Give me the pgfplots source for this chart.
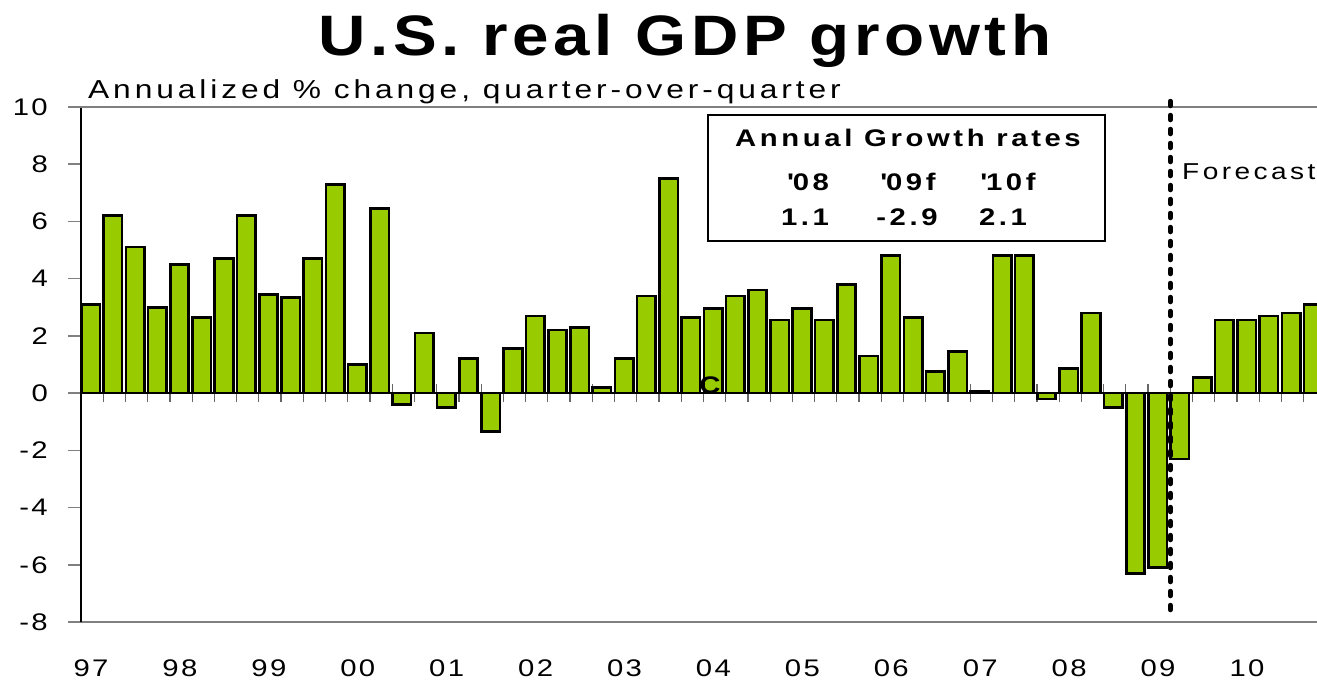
\documentclass[border=0pt]{standalone}
\usepackage{fontspec}
\setmainfont{Liberation Sans}
\newfontfamily\bodyf{Liberation Sans}[FakeStretch=1.22,LetterSpace=15]
\newfontfamily\tickf{Liberation Sans}[FakeStretch=1.22,LetterSpace=10]
\newfontfamily\titlef{Liberation Sans}[FakeStretch=1.15,LetterSpace=8]
\usepackage{pgfplots}
\pgfplotsset{compat=1.18}
\definecolor{barg}{RGB}{153,204,0}
\begin{document}
\begin{tikzpicture}
\useasboundingbox (0,0) rectangle (1317pt,681pt);
\clip (0,0) rectangle (1317pt,681pt);
% frame axis: y axis, top and bottom lines, year labels
\begin{axis}[at={(81pt,59pt)}, anchor=south west, scale only axis,
  width=1236pt, height=515pt, xmin=0.5, xmax=56.1, ymin=-8, ymax=10,
  axis x line=bottom, axis y line=left, axis line style={-},
  x axis line style={draw=gray, line width=1.5pt},
  y axis line style={draw=black, line width=2pt},
  xtick={0.95,4.95,8.95,12.95,16.95,20.95,24.95,28.95,32.95,36.95,40.95,44.95,48.95,52.95},
  xticklabels={97,98,99,00,01,02,03,04,05,06,07,08,09,10},
  xtick style={draw=none},
  xticklabel style={font=\tickf\fontsize{24}{26}\selectfont, anchor=base, inner sep=0pt, yshift=-41pt},
  ytick={-8,-6,-4,-2,0,2,4,6,8,10},
  yticklabels={-8,-6,-4,-2,0,2,4,6,8,10},
  ytick style={draw=gray, line width=1.5pt},
  tick align=outside, major tick length=13pt,
  yticklabel style={font=\tickf\fontsize{24}{28}\selectfont, anchor=east, inner sep=0pt, xshift=-20pt},
  extra y ticks={10}, extra y tick labels={},
  extra y tick style={grid=major, major grid style={draw=gray, line width=1.5pt}},
]
\end{axis}
% category axis at zero and the bars
\begin{axis}[at={(81pt,59pt)}, anchor=south west, scale only axis,
  width=1236pt, height=515pt, xmin=0.5, xmax=56.1, ymin=-8, ymax=10,
  axis x line=middle, axis y line=none, axis line style={-},
  x axis line style={draw=black, line width=1.5pt},
  xtick={1.5,2.5,...,55.5}, xticklabels={}, ytick=\empty,
  tick align=center, major tick length=18pt,
  xtick style={draw=black!60, line width=1.2pt},
  clip=false]
\addplot[ybar, bar width=18.5pt, bar shift=-1.5pt, fill=barg, draw=black, line width=2.6pt] coordinates {
(1,3.1) (2,6.2) (3,5.1) (4,3.0) (5,4.5) (6,2.65) (7,4.7) (8,6.2)
(9,3.45) (10,3.35) (11,4.7) (12,7.3) (13,1.0) (14,6.45) (15,-0.4) (16,2.1)
(17,-0.5) (18,1.2) (19,-1.35) (20,1.55) (21,2.7) (22,2.2) (23,2.3) (24,0.2)
(25,1.2) (26,3.4) (27,7.5) (28,2.65) (29,2.95) (30,3.4) (31,3.6) (32,2.55)
(33,2.95) (34,2.55) (35,3.8) (36,1.3) (37,4.8) (38,2.65) (39,0.75) (40,1.45)
(41,0.05) (42,4.8) (43,4.8) (44,-0.2) (45,0.85) (46,2.8) (47,-0.5) (48,-6.3)
(49,-6.1) (50,-2.3) (51,0.55) (52,2.55) (53,2.55) (54,2.7) (55,2.8) (56,3.1)
};
\addplot[black, line width=5pt, line cap=round, dash pattern=on 4.5pt off 9.5pt] coordinates {(49.5,10.2) (49.5,-7.8)};
\end{axis}
% texts
\node[anchor=base, inner sep=0pt, font=\titlef\bfseries\fontsize{57}{60}\selectfont] at (685pt,625pt) {U.S. real GDP growth};
\node[anchor=base west, inner sep=0pt, font=\bodyf\fontsize{26}{30}\selectfont] at (88pt,582pt) {Annualized \% change, quarter-over-quarter};
\filldraw[fill=white, draw=black, line width=2.5pt] (708pt,440pt) rectangle (1105pt,566pt);
\begin{scope}[every node/.style={anchor=base, inner sep=0pt, font=\bodyf\bfseries\fontsize{24}{27}\selectfont}]
\node at (908pt,534pt) {Annual Growth rates};
\node at (808pt,490pt) {\textquotesingle 08};
\node at (908pt,490pt) {\textquotesingle 09f};
\node at (1008pt,490pt) {\textquotesingle 10f};
\node at (805pt,455pt) {1.1};
\node at (907pt,455pt) {-2.9};
\node at (1003pt,455pt) {2.1};
\node at (710pt,288pt) {C};
\end{scope}
\node[anchor=base west, inner sep=0pt, font=\bodyf\fontsize{23}{26}\selectfont] at (1182pt,501pt) {Forecast};
\end{tikzpicture}
\end{document}
